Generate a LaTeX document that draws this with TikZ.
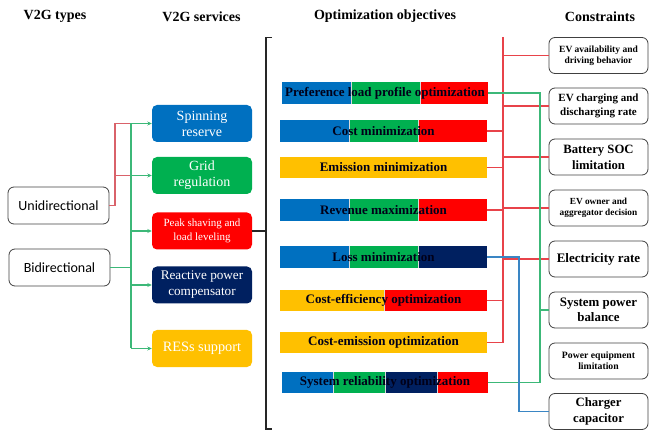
\documentclass[tikz,border=0pt]{standalone}
\usepackage{fontspec}
\setmainfont{Liberation Serif}
\newfontfamily\calibfont{Carlito}
\usetikzlibrary{arrows.meta}

\definecolor{cblue}{HTML}{0070C0}
\definecolor{cgreen}{HTML}{00B050}
\definecolor{cred}{HTML}{FF0000}
\definecolor{cnavy}{HTML}{002060}
\definecolor{cyellow}{HTML}{FFC000}
\definecolor{lnred}{HTML}{E8434A}
\definecolor{lnredsoft}{HTML}{D9626A}
\definecolor{lngreen}{HTML}{3CB878}
\definecolor{lnblue}{HTML}{3A86C4}
\definecolor{boxline}{HTML}{404040}

\newcommand\fs[2]{\fontsize{#1}{#2}\selectfont}

\tikzset{
  header/.style={font=\bfseries\fs{14}{16}},
  typebox/.style={draw=boxline, line width=0.8pt, rounded corners=6pt,
    minimum width=101, minimum height=37, inner sep=0pt,
    font=\calibfont\fs{14}{16}},
  svcbox/.style={fill=#1, rounded corners=5pt, minimum width=100,
    minimum height=37, inner sep=0pt, text=white, align=center},
  objlabel/.style={inner sep=0pt, font=\bfseries\fs{13}{15}, text=black!90!blue},
  divider/.style={draw=white!85!black, line width=0.6pt},
  constr/.style={draw=boxline, line width=0.8pt, rounded corners=6pt,
    minimum width=99, minimum height=36, inner sep=0pt, align=center,
    text=black},
  redline/.style={draw=lnred, line width=1.1pt},
  redsoft/.style={draw=lnredsoft, line width=1.1pt},
  greenline/.style={draw=lngreen, line width=1.1pt},
  blueline/.style={draw=lnblue, line width=1.1pt},
  greenarrow/.style={greenline, -{Stealth[length=4.5pt,width=4pt]}},
  bracket/.style={draw=black!85, line width=1.3pt},
}

\begin{document}
\begin{tikzpicture}[x=1pt,y=-1pt]
\useasboundingbox (0,0) rectangle (649,433);

% column headings
\node[header] (h1) at (55,16.5) {V2G types};
\node[header] (h2) at (201.5,16.5) {V2G services};
\node[header] (h3) at (385,16.5) {Optimization objectives};
\node[header] (h4) at (600,16.5) {Constraints};

% V2G types
\node[typebox] (uni) at (58.5,205.5) {Unidirectional};
\node[typebox] (bi) at (59.5,267.5) {Bidirectional};

% V2G services
\node[svcbox=cblue, font=\fs{14}{16}] (s1) at (202,123.5) {Spinning\\reserve};
\node[svcbox=cgreen, font=\fs{14}{16}] (s2) at (202,175.5) {Grid\\regulation};
\node[svcbox=cred, font=\fs{11}{13.5}] (s3) at (202,231) {Peak shaving and\\load leveling};
\node[svcbox=cnavy, font=\fs{13.2}{16}] (s4) at (202,285) {Reactive power\\compensator};
\node[svcbox=cyellow, font=\fs{14.3}{16}] (s5) at (202,348.5) {RESs support};

% links from the unidirectional type
\coordinate (ubus) at (115,0);
\coordinate (gbus) at (131,0);
\draw[redsoft] (uni.east) -- (uni.east -| ubus) -- (ubus |- s1.west) -- (gbus |- s1.west);
\draw[redsoft] (ubus |- s2.west) -- (gbus |- s2.west);

% links from the bidirectional type
\draw[greenline] (bi.east) -- (bi.east -| gbus);
\draw[greenline] (gbus |- s1.west) -- (gbus |- s5.west);
\foreach \s in {s1,s2,s3,s4,s5}
  \draw[greenarrow] (gbus |- \s.west) -- (\s.west);

% bracket gathering the objectives
\coordinate (btop) at (266,37.5);
\coordinate (bbot) at (266,429);
\draw[bracket] (272,37.5) -- (btop) -- (bbot) -- (272,429);
\draw[bracket, line width=1.1pt] (s3.east) -- (s3.east -| btop);

% optimization objectives: coloured segments with the label on top
\fill[cblue]  (282,82) rectangle (351,104);
\fill[cgreen] (351,82) rectangle (420,104);
\fill[cred]   (420,82) rectangle (488,104);
\draw[divider] (351,82) -- (351,104) (420,82) -- (420,104);
\node[objlabel, minimum width=206, minimum height=22] (o1) at (385,93) {Preference load profile optimization};

\fill[cblue]  (280,120) rectangle (349,142);
\fill[cgreen] (349,120) rectangle (418,142);
\fill[cred]   (418,120) rectangle (487,142);
\draw[divider] (349,120) -- (349,142) (418,120) -- (418,142);
\node[objlabel, minimum width=207, minimum height=22] (o2) at (383.5,131) {Cost minimization};

\fill[cyellow] (280,157) rectangle (487,178);
\node[objlabel, minimum width=207, minimum height=21] (o3) at (383.5,167.5) {Emission minimization};

\fill[cblue]  (280,199) rectangle (349,221);
\fill[cgreen] (349,199) rectangle (418,221);
\fill[cred]   (418,199) rectangle (487,221);
\draw[divider] (349,199) -- (349,221) (418,199) -- (418,221);
\node[objlabel, minimum width=207, minimum height=22] (o4) at (383.5,210) {Revenue maximization};

\fill[cblue]  (280,246) rectangle (349,268);
\fill[cgreen] (349,246) rectangle (418,268);
\fill[cnavy]  (418,246) rectangle (487,268);
\draw[divider] (349,246) -- (349,268) (418,246) -- (418,268);
\node[objlabel, minimum width=207, minimum height=22] (o5) at (383.5,257) {Loss minimization};

\fill[cyellow] (280,290) rectangle (384,311);
\fill[cred]    (384,290) rectangle (487,311);
\draw[divider] (384,290) -- (384,311);
\node[objlabel, minimum width=207, minimum height=21] (o6) at (383.5,300.5) {Cost-efficiency optimization};

\fill[cyellow] (280,332) rectangle (487,353);
\node[objlabel, minimum width=207, minimum height=21] (o7) at (383.5,342.5) {Cost-emission optimization};

\fill[cblue]  (282,372) rectangle (333,393);
\fill[cgreen] (333,372) rectangle (385,393);
\fill[cnavy]  (385,372) rectangle (437,393);
\fill[cred]   (437,372) rectangle (488,393);
\draw[divider] (333,372) -- (333,393) (385,372) -- (385,393) (437,372) -- (437,393);
\node[objlabel, minimum width=206, minimum height=21] (o8) at (385,382.5) {System reliability optimization};

% constraints
\node[constr, font=\bfseries\fs{9.5}{11}] (c1) at (598.5,55.5) {EV availability and\\driving behavior};
\node[constr, font=\bfseries\fs{11}{14}] (c2) at (598.5,106) {EV charging and\\discharging rate};
\node[constr, font=\bfseries\fs{12.7}{16}] (c3) at (598.5,157) {Battery SOC\\limitation};
\node[constr, font=\bfseries\fs{9.3}{10.7}] (c4) at (598.5,208) {EV owner and\\aggregator decision};
\node[constr, font=\bfseries\fs{13}{15}] (c5) at (598.5,259) {Electricity rate};
\node[constr, font=\bfseries\fs{12.9}{15}] (c6) at (598.5,310) {System power\\balance};
\node[constr, font=\bfseries\fs{9.7}{11}] (c7) at (598.5,361) {Power equipment\\limitation};
\node[constr, font=\bfseries\fs{12.7}{16}] (c8) at (598.5,411.5) {Charger\\capacitor};

% red network: objectives to constraints
\coordinate (rtop) at (503,37);
\draw[redline] (rtop) -- (rtop |- o7.east) -- (o7.east);
\foreach \o in {o2,o3,o4,o6}
  \draw[redline] (\o.east) -- (\o.east -| rtop);
\foreach \c in {c1,c2,c3,c4,c5}
  \draw[redline] (rtop |- \c.west) -- (\c.west);

% green network
\coordinate (gtop) at (540,93);
\draw[greenline] (o1.east) -- (gtop) -- (gtop |- o8.east) -- (o8.east);
\draw[greenline] (gtop |- c6.west) -- (c6.west);

% blue link
\coordinate (bcol) at (519,0);
\draw[blueline] (o5.east) -- (o5.east -| bcol) -- (bcol |- c8.west) -- (c8.west);
\end{tikzpicture}
\end{document}
